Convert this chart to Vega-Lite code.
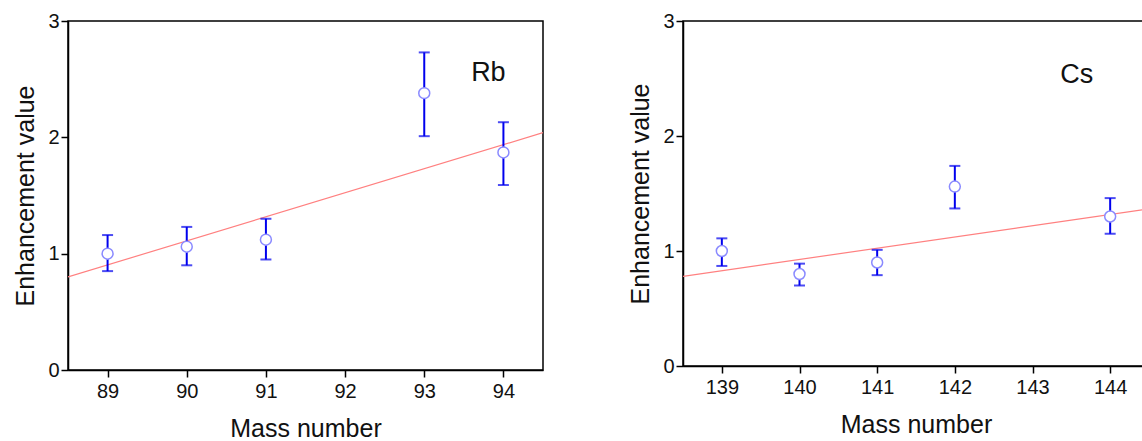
{
  "$schema": "https://vega.github.io/schema/vega-lite/v6.json",
  "padding": {"left": 13, "top": 10, "right": 0, "bottom": 0},
  "background": "white",
  "spacing": 84,
  "config": {
    "font": "Liberation Sans",
    "view": {"stroke": "black", "strokeWidth": 1.5},
    "axis": {
      "grid": false,
      "domainColor": "black",
      "domainWidth": 1.5,
      "tickColor": "black",
      "tickWidth": 1.5,
      "tickSize": 7,
      "labelFont": "Liberation Sans",
      "labelFontSize": 20,
      "labelColor": "#111",
      "titleFont": "Liberation Sans",
      "titleFontSize": 25,
      "titleFontWeight": "normal",
      "titleColor": "#111"
    },
    "axisX": {"labelPadding": 4, "titlePadding": 15},
    "axisY": {"labelPadding": 2, "titlePadding": 9}
  },
  "datasets": {
    "rb": [
      {"mass": 89, "value": 1.0, "lo": 0.85, "hi": 1.16},
      {"mass": 90, "value": 1.06, "lo": 0.90, "hi": 1.23},
      {"mass": 91, "value": 1.12, "lo": 0.95, "hi": 1.30},
      {"mass": 93, "value": 2.38, "lo": 2.01, "hi": 2.73},
      {"mass": 94, "value": 1.87, "lo": 1.59, "hi": 2.13}
    ],
    "rbfit": [
      {"mass": 88.5, "value": 0.80},
      {"mass": 94.5, "value": 2.04}
    ],
    "cs": [
      {"mass": 139, "value": 1.0, "lo": 0.87, "hi": 1.11},
      {"mass": 140, "value": 0.80, "lo": 0.70, "hi": 0.89},
      {"mass": 141, "value": 0.90, "lo": 0.79, "hi": 1.01},
      {"mass": 142, "value": 1.56, "lo": 1.37, "hi": 1.74},
      {"mass": 144, "value": 1.30, "lo": 1.15, "hi": 1.46}
    ],
    "csfit": [
      {"mass": 138.5, "value": 0.78},
      {"mass": 144.5, "value": 1.366}
    ],
    "rblabel": [{"mass": 93.81, "value": 2.55, "label": "Rb"}],
    "cslabel": [{"mass": 143.57, "value": 2.53, "label": "Cs"}]
  },
  "hconcat": [
    {
      "width": 475,
      "height": 349,
      "encoding": {
        "x": {"field": "mass", "type": "quantitative", "title": "Mass number",
              "scale": {"domain": [88.5, 94.5], "nice": false, "zero": false},
              "axis": {"values": [89, 90, 91, 92, 93, 94]}},
        "y": {"field": "value", "type": "quantitative", "title": "Enhancement value",
              "scale": {"domain": [0, 3], "nice": false},
              "axis": {"values": [0, 1, 2, 3]}}
      },
      "layer": [
        {"data": {"name": "rbfit"}, "mark": {"type": "line", "color": "#ff8080", "strokeWidth": 1.2, "clip": true}},
        {"data": {"name": "rb"}, "mark": {"type": "rule", "color": "#0000ee", "strokeWidth": 2},
         "encoding": {"y": {"field": "lo", "type": "quantitative"}, "y2": {"field": "hi"}}},
        {"data": {"name": "rb"}, "mark": {"type": "tick", "orient": "horizontal", "color": "#0000ee", "thickness": 2, "size": 11},
         "encoding": {"y": {"field": "lo", "type": "quantitative"}}},
        {"data": {"name": "rb"}, "mark": {"type": "tick", "orient": "horizontal", "color": "#0000ee", "thickness": 2, "size": 11},
         "encoding": {"y": {"field": "hi", "type": "quantitative"}}},
        {"data": {"name": "rb"}, "mark": {"type": "point", "shape": "circle", "filled": false, "fill": "white", "fillOpacity": 1, "stroke": "#8a8aff", "strokeWidth": 1.5, "size": 120, "opacity": 1}},
        {"data": {"name": "rblabel"}, "mark": {"type": "text", "fontSize": 27, "color": "#111", "font": "Liberation Sans"},
         "encoding": {"text": {"field": "label"}}}
      ]
    },
    {
      "width": 466,
      "height": 345,
      "encoding": {
        "x": {"field": "mass", "type": "quantitative", "title": "Mass number",
              "scale": {"domain": [138.5, 144.5], "nice": false, "zero": false},
              "axis": {"values": [139, 140, 141, 142, 143, 144]}},
        "y": {"field": "value", "type": "quantitative", "title": "Enhancement value",
              "scale": {"domain": [0, 3], "nice": false},
              "axis": {"values": [0, 1, 2, 3]}}
      },
      "layer": [
        {"data": {"name": "csfit"}, "mark": {"type": "line", "color": "#ff8080", "strokeWidth": 1.2, "clip": true}},
        {"data": {"name": "cs"}, "mark": {"type": "rule", "color": "#0000ee", "strokeWidth": 2},
         "encoding": {"y": {"field": "lo", "type": "quantitative"}, "y2": {"field": "hi"}}},
        {"data": {"name": "cs"}, "mark": {"type": "tick", "orient": "horizontal", "color": "#0000ee", "thickness": 2, "size": 11},
         "encoding": {"y": {"field": "lo", "type": "quantitative"}}},
        {"data": {"name": "cs"}, "mark": {"type": "tick", "orient": "horizontal", "color": "#0000ee", "thickness": 2, "size": 11},
         "encoding": {"y": {"field": "hi", "type": "quantitative"}}},
        {"data": {"name": "cs"}, "mark": {"type": "point", "shape": "circle", "filled": false, "fill": "white", "fillOpacity": 1, "stroke": "#8a8aff", "strokeWidth": 1.5, "size": 120, "opacity": 1}},
        {"data": {"name": "cslabel"}, "mark": {"type": "text", "fontSize": 27, "color": "#111", "font": "Liberation Sans"},
         "encoding": {"text": {"field": "label"}}}
      ]
    }
  ]
}
